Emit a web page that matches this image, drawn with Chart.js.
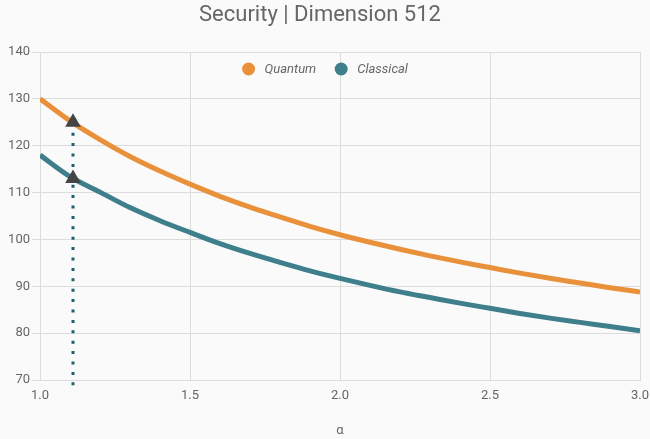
<!DOCTYPE html>
<html>
<head>
<meta charset="utf-8">
<script src="https://cdn.jsdelivr.net/npm/chart.js@4"></script>
<style>
  html, body { margin: 0; padding: 0; background: #fafafa; }
  #wrap { width: 650px; height: 439px; }
</style>
</head>
<body>
<div id="wrap"><canvas id="c"></canvas></div>
<script>
const alphas = [1.0, 1.1, 1.2, 1.3, 1.4, 1.5, 1.6, 1.7, 1.8, 1.9, 2.0, 2.1, 2.2, 2.3, 2.4, 2.5, 2.6, 2.7, 2.8, 2.9, 3.0];
const quantum = [130.0, 125.3, 121.3, 117.7, 114.6, 111.8, 109.2, 106.9, 104.8, 102.8, 101.0, 99.4, 97.9, 96.5, 95.2, 94.0, 92.8, 91.7, 90.7, 89.7, 88.8];
const classical = [118.0, 113.4, 110.1, 106.8, 104.0, 101.5, 99.1, 97.0, 95.1, 93.3, 91.7, 90.2, 88.8, 87.6, 86.4, 85.3, 84.2, 83.2, 82.3, 81.4, 80.5];
const markAlpha = 1.11;
const marks = [125.0, 113.0];
const dropBottom = 68.7;
const xTicks = [1.0, 1.5, 2.0, 2.5, 3.0];
const seriesNames = ['Quantum', 'Classical'];

const pts = ys => alphas.map((a, i) => ({ x: a, y: ys[i] }));
const textColor = '#666';
const gridColor = '#dcdcdc';

// legend drawn over the plot, centred on the canvas
const overlayLegend = {
  id: 'overlayLegend',
  afterDraw(chart) {
    const ctx = chart.ctx;
    const sets = chart.data.datasets.filter(d => seriesNames.includes(d.label));
    const r = 6.5, gap = 9.5, space = 18.5;
    ctx.save();
    ctx.font = 'italic 13px Roboto';
    const widths = sets.map(d => 2 * r + gap + ctx.measureText(d.label).width);
    const total = widths.reduce((a, b) => a + b, 0) + space * (sets.length - 1);
    let x = chart.width / 2 - total / 2;
    const y = chart.chartArea.top + 17;
    ctx.textBaseline = 'middle';
    sets.forEach((d, i) => {
      ctx.fillStyle = d.borderColor;
      ctx.beginPath();
      ctx.arc(x + r, y, r, 0, Math.PI * 2);
      ctx.fill();
      ctx.fillStyle = textColor;
      ctx.fillText(d.label, x + 2 * r + gap, y + 1);
      x += widths[i] + space;
    });
    ctx.restore();
  },
};

new Chart(document.getElementById('c'), {
  type: 'line',
  data: {
    datasets: [
      {
        label: 'marks',
        type: 'scatter',
        data: marks.map(v => ({ x: markAlpha, y: v })),
        pointStyle: 'triangle',
        pointRadius: 9,
        backgroundColor: '#444',
        borderColor: '#444',
        borderWidth: 0,
        order: 0,
      },
      {
        label: 'Quantum',
        data: pts(quantum),
        borderColor: '#e9913a',
        backgroundColor: '#e9913a',
        borderWidth: 5,
        pointRadius: 0,
        cubicInterpolationMode: 'monotone',
        order: 2,
      },
      {
        label: 'Classical',
        data: pts(classical),
        borderColor: '#3e7f8b',
        backgroundColor: '#3e7f8b',
        borderWidth: 5,
        pointRadius: 0,
        cubicInterpolationMode: 'monotone',
        order: 3,
      },
      {
        label: 'drop',
        data: [{ x: markAlpha, y: marks[0] }, { x: markAlpha, y: dropBottom }],
        borderColor: '#1c5f6d',
        borderWidth: 3,
        borderDash: [3, 7.4],
        pointRadius: 0,
        clip: false,
        order: 1,
      },
    ],
  },
  options: {
    responsive: true,
    maintainAspectRatio: false,
    animation: false,
    layout: { padding: { left: 0, right: 10, top: 0, bottom: 0 } },
    plugins: {
      title: {
        display: true,
        text: 'Security | Dimension 512',
        color: textColor,
        font: { family: 'Roboto', size: 22, weight: 'normal' },
        padding: { top: 2, bottom: 23.6 },
      },
      legend: { display: false },
      tooltip: { enabled: false },
    },
    scales: {
      x: {
        type: 'linear',
        min: 1,
        max: 3,
        afterBuildTicks: s => { s.ticks = xTicks.map(v => ({ value: v })); },
        afterFit: s => { s.height = 59; s.paddingRight = 0; },
        ticks: {
          color: textColor,
          font: { family: 'Roboto', size: 13 },
          padding: 8,
          maxRotation: 0,
          callback: v => Number(v).toFixed(1),
        },
        grid: { color: gridColor, drawTicks: false },
        border: { color: gridColor },
        title: {
          display: true,
          text: 'α',
          color: textColor,
          font: { family: 'Roboto', size: 13 },
          padding: { top: 20, bottom: 0 },
        },
      },
      y: {
        min: 70,
        max: 140,
        afterFit: s => { s.width = 40; },
        ticks: {
          stepSize: 10,
          color: textColor,
          font: { family: 'Roboto', size: 13 },
          padding: 2,
        },
        grid: { color: gridColor, tickLength: 8 },
        border: { color: gridColor },
      },
    },
  },
  plugins: [overlayLegend],
});
</script>
</body>
</html>
